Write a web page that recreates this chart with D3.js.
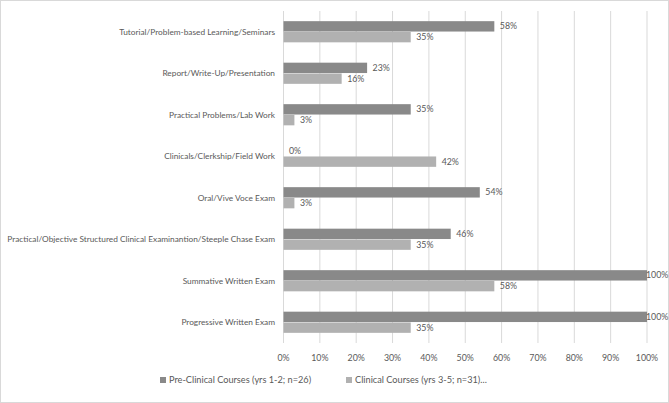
<!DOCTYPE html>
<html><head><meta charset="utf-8">
<script src="https://cdn.jsdelivr.net/npm/d3@7"></script>
<style>body{margin:0;background:#fff}svg{display:block}text{font-family:Lato,"Open Sans",sans-serif;fill:#595959}</style>
</head><body><svg id="c" width="669" height="403"></svg>
<script>
const categories = ["Tutorial/Problem-based Learning/Seminars","Report/Write-Up/Presentation","Practical Problems/Lab Work","Clinicals/Clerkship/Field Work","Oral/Vive Voce Exam","Practical/Objective Structured Clinical Examinantion/Steeple Chase Exam","Summative Written Exam","Progressive Written Exam"];
const preClinical = [58,23,35,0,54,46,100,100];
const clinical = [35,16,3,42,3,35,58,35];
const seriesNames = ["Pre-Clinical Courses (yrs 1-2; n=26)","Clinical Courses  (yrs 3-5; n=31)..."];
const xTicks = [0,10,20,30,40,50,60,70,80,90,100];
const colors = ["#898989","#b1b1b1"];

const svg = d3.select("#c");
svg.append("rect").attr("x",0.5).attr("y",0.5).attr("width",668).attr("height",402).attr("fill","#fff").attr("stroke","#d9d9d9");
const L=283.5, R=647, T=11, B=343;
const x = d3.scaleLinear().domain([0,100]).range([L,R]);
const y = d3.scaleBand().domain(categories).range([T,B]).paddingInner(0.49).paddingOuter(0.245);
const ys = d3.scaleBand().domain([0,1]).range([0,y.bandwidth()]).paddingInner(0.04);

svg.append("g").selectAll("line").data(xTicks).join("line")
  .attr("x1",d=>x(d)).attr("x2",d=>x(d)).attr("y1",T).attr("y2",B)
  .attr("stroke","#d9d9d9").attr("stroke-width",1);

const series=[preClinical,clinical];
series.forEach((vals,si)=>{
  const g=svg.append("g");
  g.selectAll("rect").data(vals).join("rect")
    .attr("x",x(0)).attr("y",(d,i)=>y(categories[i])+ys(si))
    .attr("width",d=>x(d)-x(0)).attr("height",ys.bandwidth()).attr("fill",colors[si]);
  g.selectAll("text").data(vals).join("text")
    .attr("x",d=>x(d)+(d>=100?-1:5.5)).attr("y",(d,i)=>y(categories[i])+ys(si)+ys.bandwidth()/2)
    .attr("dy","0.35em").attr("font-size",8.8).text(d=>d+"%");
});

const labs = svg.append("g").selectAll("text").data(categories).join("text")
  .attr("x",275).attr("y",d=>y(d)+y.bandwidth()/2).attr("dy","0.35em")
  .attr("text-anchor","end").attr("font-size",10).text(d=>d);
let maxW=0; labs.each(function(){maxW=Math.max(maxW,this.getComputedTextLength());});
labs.attr("font-size",10*268/maxW);

svg.append("g").selectAll("text").data(xTicks).join("text")
  .attr("x",d=>x(d)).attr("y",358).attr("dy","0.35em").attr("text-anchor","middle")
  .attr("font-size",8.8).text(d=>d+"%");

const lx=[160,346];
seriesNames.forEach((n,i)=>{
  svg.append("rect").attr("x",lx[i]).attr("y",377).attr("width",6).attr("height",6).attr("fill",colors[i]);
  svg.append("text").attr("x",lx[i]+9).attr("y",380).attr("dy","0.35em").attr("font-size",9.2).text(n);
});
</script></body></html>
